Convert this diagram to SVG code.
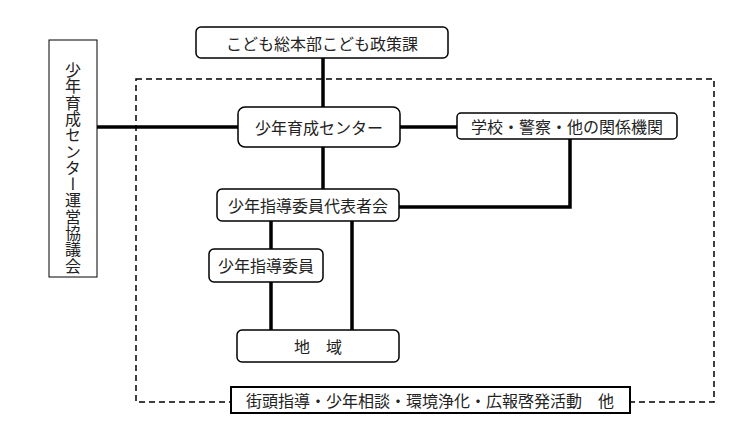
<svg xmlns="http://www.w3.org/2000/svg" width="751" height="441" viewBox="0 0 751 441">
<style>
.bx{fill:#fff;stroke:#000;stroke-width:1.5}
.t{font-family:"Noto Sans CJK JP","Noto Sans CJK SC",sans-serif;font-size:16px;fill:#222;text-anchor:middle;dominant-baseline:central}
.c{fill:none;stroke:#000;stroke-width:3.5}
</style>
<rect width="751" height="441" fill="#fff"/>
<g id="scope">
<rect x="136" y="79" width="578" height="323" fill="none" stroke="#000" stroke-width="1.5" stroke-dasharray="6 4"/>
</g>
<g id="connectors">
<line class="c" x1="323" y1="58" x2="323" y2="107"/>
<line class="c" x1="97" y1="127" x2="238" y2="127" stroke-width="3"/>
<line class="c" x1="400" y1="127" x2="457" y2="127" stroke-width="3"/>
<line class="c" x1="323" y1="147" x2="323" y2="189"/>
<polyline class="c" points="570,139 570,207 399,207"/>
<line class="c" x1="271" y1="221" x2="271" y2="249"/>
<line class="c" x1="271" y1="282" x2="271" y2="330"/>
<line class="c" x1="352" y1="221" x2="352" y2="330"/>
</g>
<g id="n-kodomo">
<rect class="bx" x="196" y="27" width="252" height="31" rx="5"/>
<text class="t" x="322" y="43">こども総本部こども政策課</text>
</g>
<g id="n-kyogikai">
<rect x="49" y="40" width="48" height="237" fill="#fff" stroke="#000" stroke-width="1"/>
<text class="t" x="73" y="62" style="writing-mode:vertical-rl;text-anchor:start;dominant-baseline:central;letter-spacing:0.3px" font-size="15">少年育成センター運営協議会</text>
</g>
<g id="n-center">
<rect class="bx" x="238" y="107" width="162" height="40" rx="7" stroke-width="3.5"/>
<text class="t" x="319" y="127">少年育成センター</text>
</g>
<g id="n-kikan">
<rect class="bx" x="457" y="113" width="220" height="26" rx="4"/>
<text class="t" x="567" y="126">学校・警察・他の関係機関</text>
</g>
<g id="n-daihyo">
<rect class="bx" x="217" y="189" width="182" height="32" rx="5"/>
<text class="t" x="308" y="205">少年指導委員代表者会</text>
</g>
<g id="n-iin">
<rect class="bx" x="209" y="249" width="114" height="33" rx="5"/>
<text class="t" x="266" y="265">少年指導委員</text>
</g>
<g id="n-chiiki">
<rect class="bx" x="237" y="330" width="162" height="32" rx="5"/>
<text class="t" x="318" y="346">地　域</text>
</g>
<g id="n-katsudo">
<rect x="231" y="387" width="399" height="26" fill="#fff" stroke="#000" stroke-width="2"/>
<text class="t" x="430" y="400" font-size="16.5">街頭指導・少年相談・環境浄化・広報啓発活動　他</text>
</g>
</svg>
